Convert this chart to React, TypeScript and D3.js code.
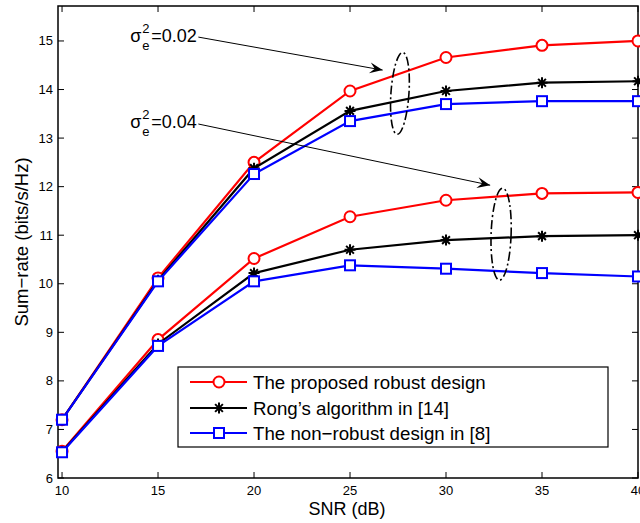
import { useEffect, useRef } from 'react'
import * as d3 from 'd3'

const snr = [10, 15, 20, 25, 30, 35, 40]

// sigma_e^2 = 0.02
const robust002 = [7.2, 10.12, 12.5, 13.97, 14.66, 14.91, 15.0]
const rong002 = [7.2, 10.07, 12.38, 13.56, 13.97, 14.14, 14.17]
const nonRobust002 = [7.2, 10.05, 12.26, 13.35, 13.7, 13.76, 13.76]

// sigma_e^2 = 0.04
const robust004 = [6.55, 8.85, 10.52, 11.38, 11.72, 11.86, 11.88]
const rong004 = [6.54, 8.76, 10.22, 10.7, 10.9, 10.98, 11.0]
const nonRobust004 = [6.53, 8.72, 10.05, 10.38, 10.31, 10.22, 10.15]

const xTicks = [10, 15, 20, 25, 30, 35, 40]
const yTicks = [6, 7, 8, 9, 10, 11, 12, 13, 14, 15]

const legendLabels = [
  'The proposed robust design',
  'Rong\u2019s algorithm in [14]',
  'The non\u2212robust design in [8]',
]

// annotations in data units: label position, line start, arrow tip, ellipse centre
const notes = [
  { value: '0.02', text: [13.55, 14.97], from: [17.1, 15.08], to: [26.7, 14.4], ell: [27.6, 13.92] },
  { value: '0.04', text: [13.55, 13.2], from: [17.1, 13.29], to: [32.3, 12.03], ell: [32.87, 11.02] },
]

export default function App() {
  const ref = useRef<SVGSVGElement>(null)

  useEffect(() => {
    const svg = d3.select(ref.current)
    svg.selectAll('*').remove()

    const W = 640, H = 523
    const left = 58, right = 638, top = 6, bottom = 478
    const font = '"Liberation Sans", Arial, Helvetica, sans-serif'

    const x = d3.scaleLinear().domain([9.79, 40]).range([left, right])
    const y = d3.scaleLinear().domain([6, 15.72]).range([bottom, top])

    svg.attr('width', W).attr('height', H)
    svg.append('rect').attr('width', W).attr('height', H).attr('fill', '#fff')

    // axes box + inward ticks
    const g = svg.append('g')
    g.append('rect')
      .attr('x', left).attr('y', top)
      .attr('width', right - left).attr('height', bottom - top)
      .attr('fill', 'none').attr('stroke', '#000').attr('stroke-width', 1.5)

    xTicks.forEach(t => {
      g.append('line').attr('x1', x(t)).attr('x2', x(t)).attr('y1', bottom).attr('y2', bottom - 6)
        .attr('stroke', '#000')
      g.append('line').attr('x1', x(t)).attr('x2', x(t)).attr('y1', top).attr('y2', top + 6)
        .attr('stroke', '#000')
      g.append('text').attr('x', x(t)).attr('y', 495).attr('text-anchor', 'middle')
        .style('font-family', font).style('font-size', '13px').text(t)
    })
    yTicks.forEach(t => {
      g.append('line').attr('x1', left).attr('x2', left + 6).attr('y1', y(t)).attr('y2', y(t))
        .attr('stroke', '#000')
      g.append('line').attr('x1', right).attr('x2', right - 6).attr('y1', y(t)).attr('y2', y(t))
        .attr('stroke', '#000')
      g.append('text').attr('x', 53).attr('y', y(t) + 4.5).attr('text-anchor', 'end')
        .style('font-family', font).style('font-size', '13px').text(t)
    })

    g.append('text').attr('x', 347).attr('y', 515).attr('text-anchor', 'middle')
      .style('font-family', font).style('font-size', '18px').text('SNR (dB)')
    g.append('text')
      .attr('transform', `translate(28,${(top + bottom) / 2}) rotate(-90)`)
      .attr('text-anchor', 'middle')
      .style('font-family', font).style('font-size', '18.5px').text('Sum\u2212rate (bits/s/Hz)')

    // series
    const line = d3.line<number>().x((_, i) => x(snr[i])).y(d => y(d))
    const plot = svg.append('g')

    const drawMarker = (sel: any, kind: string, color: string, px: number, py: number) => {
      if (kind === 'circle') {
        sel.append('circle').attr('cx', px).attr('cy', py).attr('r', 5.5)
          .attr('fill', '#fff').attr('stroke', color).attr('stroke-width', 2)
      } else if (kind === 'square') {
        sel.append('rect').attr('x', px - 5).attr('y', py - 5).attr('width', 10).attr('height', 10)
          .attr('fill', '#fff').attr('stroke', color).attr('stroke-width', 2)
      } else {
        const r = 5.5
        const p = d3.path()
        for (let k = 0; k < 4; k++) {
          const a = (k * Math.PI) / 4
          p.moveTo(px - r * Math.cos(a), py - r * Math.sin(a))
          p.lineTo(px + r * Math.cos(a), py + r * Math.sin(a))
        }
        sel.append('path').attr('d', p.toString()).attr('stroke', color).attr('stroke-width', 2)
      }
    }

    const series = [
      { data: robust002, color: '#ff0000', kind: 'circle' },
      { data: rong002, color: '#000000', kind: 'star' },
      { data: nonRobust002, color: '#0000ff', kind: 'square' },
      { data: robust004, color: '#ff0000', kind: 'circle' },
      { data: rong004, color: '#000000', kind: 'star' },
      { data: nonRobust004, color: '#0000ff', kind: 'square' },
    ]
    const order = [0, 3, 1, 4, 2, 5]
    order.forEach(k => {
      const s = series[k]
      plot.append('path').attr('d', line(s.data)).attr('fill', 'none')
        .attr('stroke', s.color).attr('stroke-width', 2.2)
      s.data.forEach((v, i) => drawMarker(plot, s.kind, s.color, x(snr[i]), y(v)))
    })

    // annotations
    const ann = svg.append('g')
    notes.forEach((n, idx) => {
      const tx = x(n.text[0]), ty = y(n.text[1])
      ann.append('text').attr('x', tx).attr('y', ty).style('font-family', font)
        .style('font-size', '18px').text('\u03c3')
      ann.append('text').attr('x', tx + 12).attr('y', ty - 9).style('font-family', font)
        .style('font-size', '13px').text('2')
      ann.append('text').attr('x', tx + 12).attr('y', ty + 8).style('font-family', font)
        .style('font-size', '13px').text('e')
      ann.append('text').attr('x', tx + 21).attr('y', ty).style('font-family', font)
        .style('font-size', '18px').text('=' + n.value)

      const x1 = x(n.from[0]), y1 = y(n.from[1]), x2 = x(n.to[0]), y2 = y(n.to[1])
      ann.append('line').attr('x1', x1).attr('y1', y1).attr('x2', x2).attr('y2', y2)
        .attr('stroke', '#000').attr('stroke-width', 1)
      const ang = Math.atan2(y2 - y1, x2 - x1)
      const hl = 13, hw = 5.5, notch = 8
      const ux = Math.cos(ang), uy = Math.sin(ang)
      const bx = x2 - ux * hl, by = y2 - uy * hl
      const nx = x2 - ux * notch, ny = y2 - uy * notch
      ann.append('path')
        .attr('d', `M${x2},${y2} L${bx - uy * hw},${by + ux * hw} L${nx},${ny} L${bx + uy * hw},${by - ux * hw} Z`)
        .attr('fill', '#000')

      const ex = x(n.ell[0]), ey = y(n.ell[1])
      ann.append('ellipse').attr('cx', ex).attr('cy', ey)
        .attr('rx', idx === 0 ? 9 : 10).attr('ry', idx === 0 ? 41 : 46)
        .attr('transform', `rotate(${idx === 0 ? 4 : 2},${ex},${ey})`)
        .attr('fill', 'none').attr('stroke', '#000').attr('stroke-width', 1.6)
        .attr('stroke-dasharray', '9,3,2,3')
    })

    // legend
    const lg = svg.append('g')
    lg.append('rect').attr('x', 178).attr('y', 367).attr('width', 430).attr('height', 80)
      .attr('fill', '#fff').attr('stroke', '#000').attr('stroke-width', 1.2)
    const legendRows = [382, 408, 433]
    const legendKinds = [series[0], series[1], series[2]]
    legendLabels.forEach((lab, i) => {
      const ly = legendRows[i]
      lg.append('line').attr('x1', 190).attr('x2', 247).attr('y1', ly).attr('y2', ly)
        .attr('stroke', legendKinds[i].color).attr('stroke-width', 2.2)
      drawMarker(lg, legendKinds[i].kind, legendKinds[i].color, 219, ly)
      lg.append('text').attr('x', 253).attr('y', ly + 6.5)
        .style('font-family', font).style('font-size', '18.7px').text(lab)
    })
  }, [])

  return (
    <div style={{ position: 'fixed', left: 0, top: 0, width: 640, height: 523, overflow: 'hidden' }}>
      <svg ref={ref} style={{ display: 'block' }} />
    </div>
  )
}
